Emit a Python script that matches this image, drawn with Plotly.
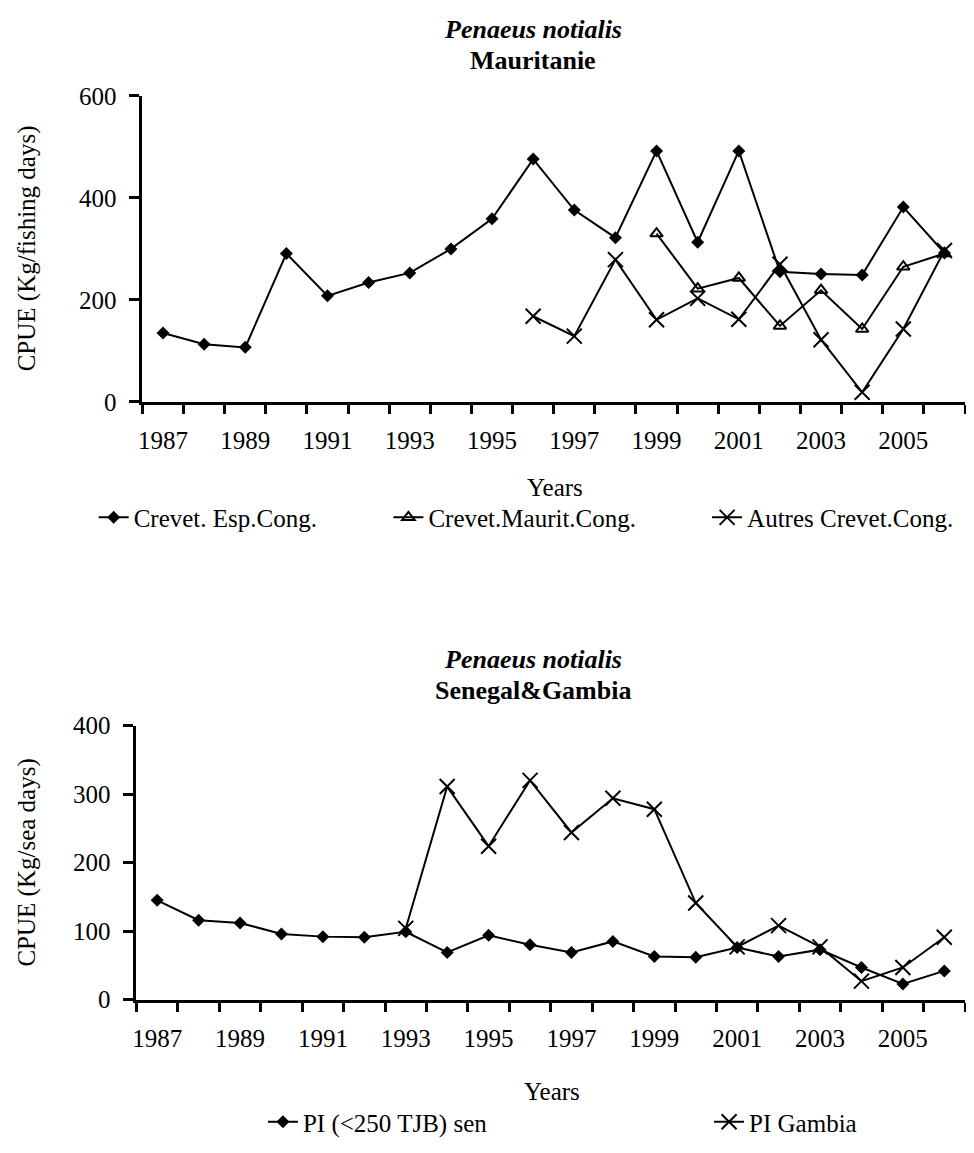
import plotly.graph_objects as go

# ---------------- data ----------------
years = list(range(1987, 2007))
tick_years = [1987, 1989, 1991, 1993, 1995, 1997, 1999, 2001, 2003, 2005]

# Mauritanie (Kg/fishing days)
esp_cong = [135, 113, 107, 291, 208, 234, 253, 300, 359, 476,
            376, 322, 492, 313, 492, 255, 251, 249, 382, 292]
maurit_years = list(range(1999, 2007))
maurit_cong = [330, 222, 243, 149, 219, 143, 265, 291]
autres_years = list(range(1996, 2007))
autres_cong = [168, 129, 279, 161, 203, 162, 270, 122, 19, 143, 297]

# Senegal & Gambia (Kg/sea days)
pi_sen = [145, 116, 112, 96, 92, 91, 99, 69, 94, 80,
          69, 85, 63, 62, 76, 63, 73, 47, 23, 42]
gambia_years = list(range(1993, 2007))
pi_gambia = [104, 311, 224, 320, 244, 294, 278, 141, 77, 108, 77, 27, 47, 91]

# ---------------- styling ----------------
PAGE_W, PAGE_H = 974, 1153
OFF = 8  # default body margin of the html page
W, H = PAGE_W - 2 * OFF, PAGE_H - 2 * OFF
FONT = "Liberation Serif"
BLACK = "black"


def px_x(p):
    return min(max((p - OFF) / W, 0.0), 1.0)


def px_y(p):
    return min(max(1 - (p - OFF) / H, 0.0), 1.0)


diamond = dict(symbol="diamond", size=10, color=BLACK)
triangle = dict(symbol="triangle-up-open", size=11, color=BLACK, line=dict(color=BLACK, width=2))
cross = dict(symbol="x-thin-open", size=15, color=BLACK, line=dict(color=BLACK, width=2))
line = dict(color=BLACK, width=2)

fig = go.Figure()
fig.add_trace(go.Scatter(x=years, y=esp_cong, mode="lines+markers", name="Crevet. Esp.Cong.",
                         line=line, marker=diamond, xaxis="x", yaxis="y", legend="legend"))
fig.add_trace(go.Scatter(x=maurit_years, y=maurit_cong, mode="lines+markers", name="Crevet.Maurit.Cong.",
                         line=line, marker=triangle, xaxis="x", yaxis="y", legend="legend2"))
fig.add_trace(go.Scatter(x=autres_years, y=autres_cong, mode="lines+markers", name="Autres Crevet.Cong.",
                         line=line, marker=cross, xaxis="x", yaxis="y", legend="legend3"))

fig.add_trace(go.Scatter(x=years, y=pi_sen, mode="lines+markers", name="PI (<250 TJB) sen",
                         line=line, marker=diamond, xaxis="x2", yaxis="y2", legend="legend4"))
fig.add_trace(go.Scatter(x=gambia_years, y=pi_gambia, mode="lines+markers", name="PI Gambia",
                         line=line, marker=cross, xaxis="x2", yaxis="y2", legend="legend5"))

bounds = [y - 0.5 for y in years] + [years[-1] + 0.5]


def xaxis(domain, anchor):
    return dict(domain=domain, anchor=anchor, range=[bounds[0], bounds[-1]],
                tickmode="array", tickvals=tick_years, ticktext=[str(t) for t in tick_years],
                ticks="", ticklabelstandoff=14,
                minor=dict(tickmode="array", tickvals=bounds, ticks="outside", ticklen=9,
                           tickwidth=3, tickcolor=BLACK, showgrid=False),
                showline=True, linewidth=3, linecolor=BLACK, showgrid=False, zeroline=False,
                tickfont=dict(family=FONT, size=25, color=BLACK), fixedrange=True)


def yaxis(domain, anchor, top, step):
    return dict(domain=domain, anchor=anchor, range=[0, top], dtick=step, tick0=0,
                ticks="outside", ticklen=10, tickwidth=3, tickcolor=BLACK, ticklabelstandoff=8,
                showline=True, linewidth=3, linecolor=BLACK, showgrid=False, zeroline=False,
                tickfont=dict(family=FONT, size=25, color=BLACK), fixedrange=True)


top_dom_y = [px_y(400), px_y(85)]
bot_dom_y = [px_y(1015), px_y(733)]

annotations = []


def ann(text, x, y, size=25, angle=0):
    annotations.append(dict(text=text, x=px_x(x), y=px_y(y), xref="paper", yref="paper",
                            showarrow=False, textangle=angle, xanchor="center", yanchor="middle",
                            font=dict(family=FONT, size=size, color=BLACK)))


ann("<b><i>Penaeus notialis</i></b>", 531, 17, size=26)
ann("<b>Mauritanie</b>", 531, 49, size=26)
ann("CPUE (Kg/fishing days)", 23, 242, angle=-90)
ann("Years", 553, 488)

ann("<b><i>Penaeus notialis</i></b>", 531, 665, size=26)
ann("<b>Senegal&amp;Gambia</b>", 531, 697, size=26)
ann("CPUE (Kg/sea days)", 23, 874, angle=-90)
ann("Years", 550, 1110)

legend_font = dict(family=FONT, size=25, color=BLACK)


def leg(x, y):
    return dict(orientation="h", x=px_x(x), xanchor="left", y=px_y(y), yanchor="middle",
                font=legend_font, bgcolor="rgba(0,0,0,0)", borderwidth=0)


fig.update_layout(
    width=W, height=H,
    margin=dict(l=0, r=0, t=0, b=0),
    paper_bgcolor="white", plot_bgcolor="white",
    xaxis=xaxis([px_x(139), px_x(965)], "y"),
    yaxis=yaxis(top_dom_y, "x", 600, 200),
    xaxis2=xaxis([px_x(133), px_x(965)], "y2"),
    yaxis2=yaxis(bot_dom_y, "x2", 400, 100),
    annotations=annotations,
    legend=leg(90, 519),
    legend2=leg(386, 519),
    legend3=leg(706, 519),
    legend4=leg(260, 1141),
    legend5=leg(708, 1141),
    showlegend=True,
)

fig.write_html("out.html")
